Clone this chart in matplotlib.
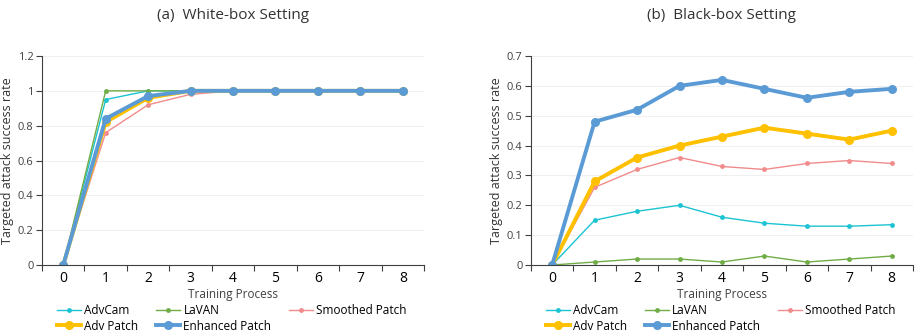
import numpy as np
import matplotlib.pyplot as plt

plt.rcParams['font.family'] = ['Open Sans', 'DejaVu Sans']

steps = [0, 1, 2, 3, 4, 5, 6, 7, 8]
names = ['AdvCam', 'LaVAN', 'Smoothed Patch', 'Adv Patch', 'Enhanced Patch']

# white-box setting
wb_advcam = [0, 0.95, 1, 1, 1, 1, 1, 1, 1]
wb_lavan = [0, 1, 1, 1, 1, 1, 1, 1, 1]
wb_smoothed = [0, 0.76, 0.92, 0.98, 1, 1, 1, 1, 1]
wb_adv = [0, 0.82, 0.96, 1, 1, 1, 1, 1, 1]
wb_enhanced = [0, 0.84, 0.97, 1, 1, 1, 1, 1, 1]

# black-box setting
bb_advcam = [0, 0.15, 0.18, 0.20, 0.16, 0.14, 0.13, 0.13, 0.135]
bb_lavan = [0, 0.01, 0.02, 0.02, 0.01, 0.03, 0.01, 0.02, 0.03]
bb_smoothed = [0, 0.26, 0.32, 0.36, 0.33, 0.32, 0.34, 0.35, 0.34]
bb_adv = [0, 0.28, 0.36, 0.40, 0.43, 0.46, 0.44, 0.42, 0.45]
bb_enhanced = [0, 0.48, 0.52, 0.60, 0.62, 0.59, 0.56, 0.58, 0.59]

colors = ['#1cc3d3', '#70ad47', '#f28b8b', '#ffc000', '#5b9bd5']
widths = [1, 1, 1, 2.8, 2.8]
msizes = [3.5, 3.5, 3.5, 6.5, 6.5]

fig = plt.figure(figsize=(9.17, 3.36), dpi=100)
ax1 = fig.add_axes([0.0458, 0.2113, 0.4166, 0.622])
ax2 = fig.add_axes([0.579, 0.2113, 0.4166, 0.622])

panels = [
    (ax1, [wb_advcam, wb_lavan, wb_smoothed, wb_adv, wb_enhanced], 1.2, 0.2,
     '(a)  White-box Setting'),
    (ax2, [bb_advcam, bb_lavan, bb_smoothed, bb_adv, bb_enhanced], 0.7, 0.1,
     '(b)  Black-box Setting'),
]

# legend is filled column by column, so reorder to get rows like the reference
leg_order = [0, 3, 1, 4, 2]

for ax, series, ymax, ystep, title in panels:
    lines = []
    for vals, name, c, lw, ms in zip(series, names, colors, widths, msizes):
        ln, = ax.plot(steps, vals, color=c, lw=lw, marker='o', ms=ms, label=name,
                      markeredgewidth=0)
        lines.append(ln)
    ax.set_xlim(-0.5, 8.5)
    ax.set_ylim(0, ymax)
    yt = np.round(np.arange(0, ymax + 1e-9, ystep), 2)
    ax.set_yticks(yt)
    ax.set_yticklabels(['%g' % v for v in yt])
    ax.set_xticks(np.arange(-0.5, 9, 1))
    ax.set_xticklabels([])
    ax.set_xticks(steps, minor=True)
    ax.set_xticklabels([str(s) for s in steps], minor=True)
    ax.tick_params(axis='x', which='minor', length=0, pad=4)
    ax.tick_params(axis='x', which='major', length=4, color='#404040')
    ax.tick_params(axis='y', length=4, color='#404040', pad=2)
    ax.tick_params(labelsize=8, labelcolor='#404040')
    ax.grid(axis='y', color='#f0f0f0', lw=0.8)
    ax.set_axisbelow(True)
    for s in ['top', 'right']:
        ax.spines[s].set_visible(False)
    for s in ['left', 'bottom']:
        ax.spines[s].set_color('#404040')
    ax.set_ylabel('Targeted attack success rate', fontsize=9, color='#333333',
                  labelpad=3, fontweight='medium')
    ax.set_xlabel('Training Process', fontsize=8.5, color='#404040', labelpad=2)
    ax.set_title(title, fontsize=11, color='#333333', pad=27)
    ax.legend([lines[i] for i in leg_order], [names[i] for i in leg_order],
              loc='upper left', bbox_to_anchor=(0.04, -0.185), ncol=3,
              frameon=False, fontsize=8.5, handlelength=2.0, columnspacing=1.5,
              labelspacing=0.25, handletextpad=0.3, borderaxespad=0, borderpad=0)

fig.savefig('out.png', dpi=100)
